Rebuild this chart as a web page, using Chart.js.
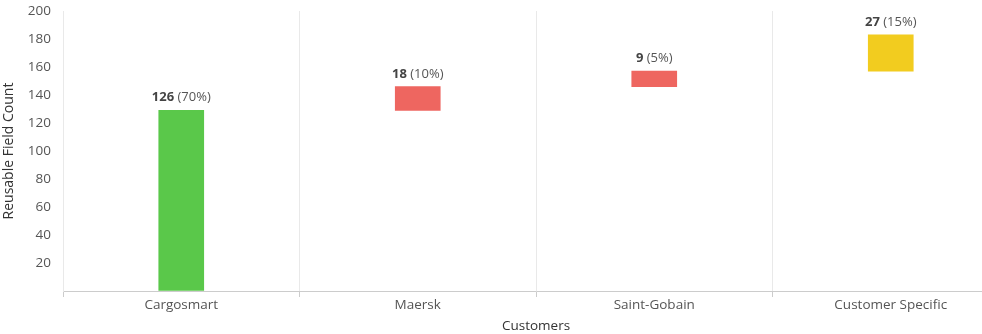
<!DOCTYPE html>
<html>
<head>
<meta charset="utf-8">
<script src="https://cdn.jsdelivr.net/npm/chart.js@4"></script>
<style>
  html, body { margin: 0; padding: 0; background: #fff; overflow: hidden; }
  /* canvas runs a little past the right edge, as in the cropped original */
  #wrap { width: 1010px; height: 334px; }
</style>
</head>
<body>
<div id="wrap"><canvas id="chart"></canvas></div>
<script>
const customers = ['Cargosmart', 'Maersk', 'Saint-Gobain', 'Customer Specific'];
const fieldCounts = [126, 18, 9, 27];
const percents = [70, 10, 5, 15];
// floating bar extents
const barStart = [0, 129, 146, 157];
const barEnd = [129, 146, 157, 183];
const barColors = ['#5ac84a', '#ee6660', '#ee6660', '#f2cc1f'];

const FONT = '"Open Sans", sans-serif';

// value (bold) + percent label above each bar
const valueLabels = {
  id: 'valueLabels',
  afterDatasetsDraw(chart) {
    const ctx = chart.ctx;
    const meta = chart.getDatasetMeta(0);
    ctx.save();
    ctx.textBaseline = 'alphabetic';
    meta.data.forEach((bar, i) => {
      const bold = String(fieldCounts[i]);
      const rest = ' (' + percents[i] + '%)';
      ctx.font = 'bold 13px ' + FONT;
      const wb = ctx.measureText(bold).width;
      ctx.font = '13px ' + FONT;
      const wr = ctx.measureText(rest).width;
      const x0 = bar.x - (wb + wr) / 2;
      const y = bar.y - 9;
      ctx.textAlign = 'left';
      ctx.fillStyle = '#444';
      ctx.font = 'bold 13px ' + FONT;
      ctx.fillText(bold, x0, y);
      ctx.fillStyle = '#555';
      ctx.font = '13px ' + FONT;
      ctx.fillText(rest, x0 + wb, y);
    });
    ctx.restore();
  }
};

new Chart(document.getElementById('chart'), {
  type: 'bar',
  data: {
    labels: customers,
    datasets: [{
      data: barStart.map((s, i) => [s, barEnd[i]]),
      backgroundColor: barColors,
      borderWidth: 0,
      borderSkipped: false,
      barThickness: 45
    }]
  },
  options: {
    responsive: true,
    maintainAspectRatio: false,
    animation: false,
    layout: { padding: { top: 11, right: 1, left: 0, bottom: 0 } },
    plugins: {
      legend: { display: false },
      tooltip: { enabled: false }
    },
    scales: {
      x: {
        grid: {
          offset: true,
          color: '#e9e9e9',
          tickColor: '#cccccc',
          tickLength: 6,
          drawOnChartArea: true
        },
        border: { color: '#cccccc', width: 1 },
        ticks: {
          color: '#555',
          font: { family: FONT, size: 13.5 },
          padding: 0
        },
        title: {
          display: true,
          text: 'Customers',
          color: '#333',
          font: { family: FONT, size: 13.5 },
          padding: { top: 2, bottom: 0 }
        },
        afterFit(s) { s.height = 43; }
      },
      y: {
        min: 0,
        max: 200,
        // invisible tick marks give the gap between labels and axis
        grid: { display: true, drawOnChartArea: false, drawTicks: true, tickLength: 12, tickColor: 'rgba(0,0,0,0)' },
        border: { display: true, color: '#e9e9e9' },
        ticks: {
          stepSize: 20,
          color: '#555',
          font: { family: FONT, size: 13.5, lineHeight: 1 },
          padding: 0,
          callback: v => v === 0 ? '' : v
        },
        title: {
          display: true,
          text: 'Reusable Field Count',
          color: '#333',
          font: { family: FONT, size: 14 },
          padding: { top: 1, bottom: 4 }
        },
        afterFit(s) { s.width = 63; }
      }
    }
  },
  plugins: [valueLabels]
});
</script>
</body>
</html>
